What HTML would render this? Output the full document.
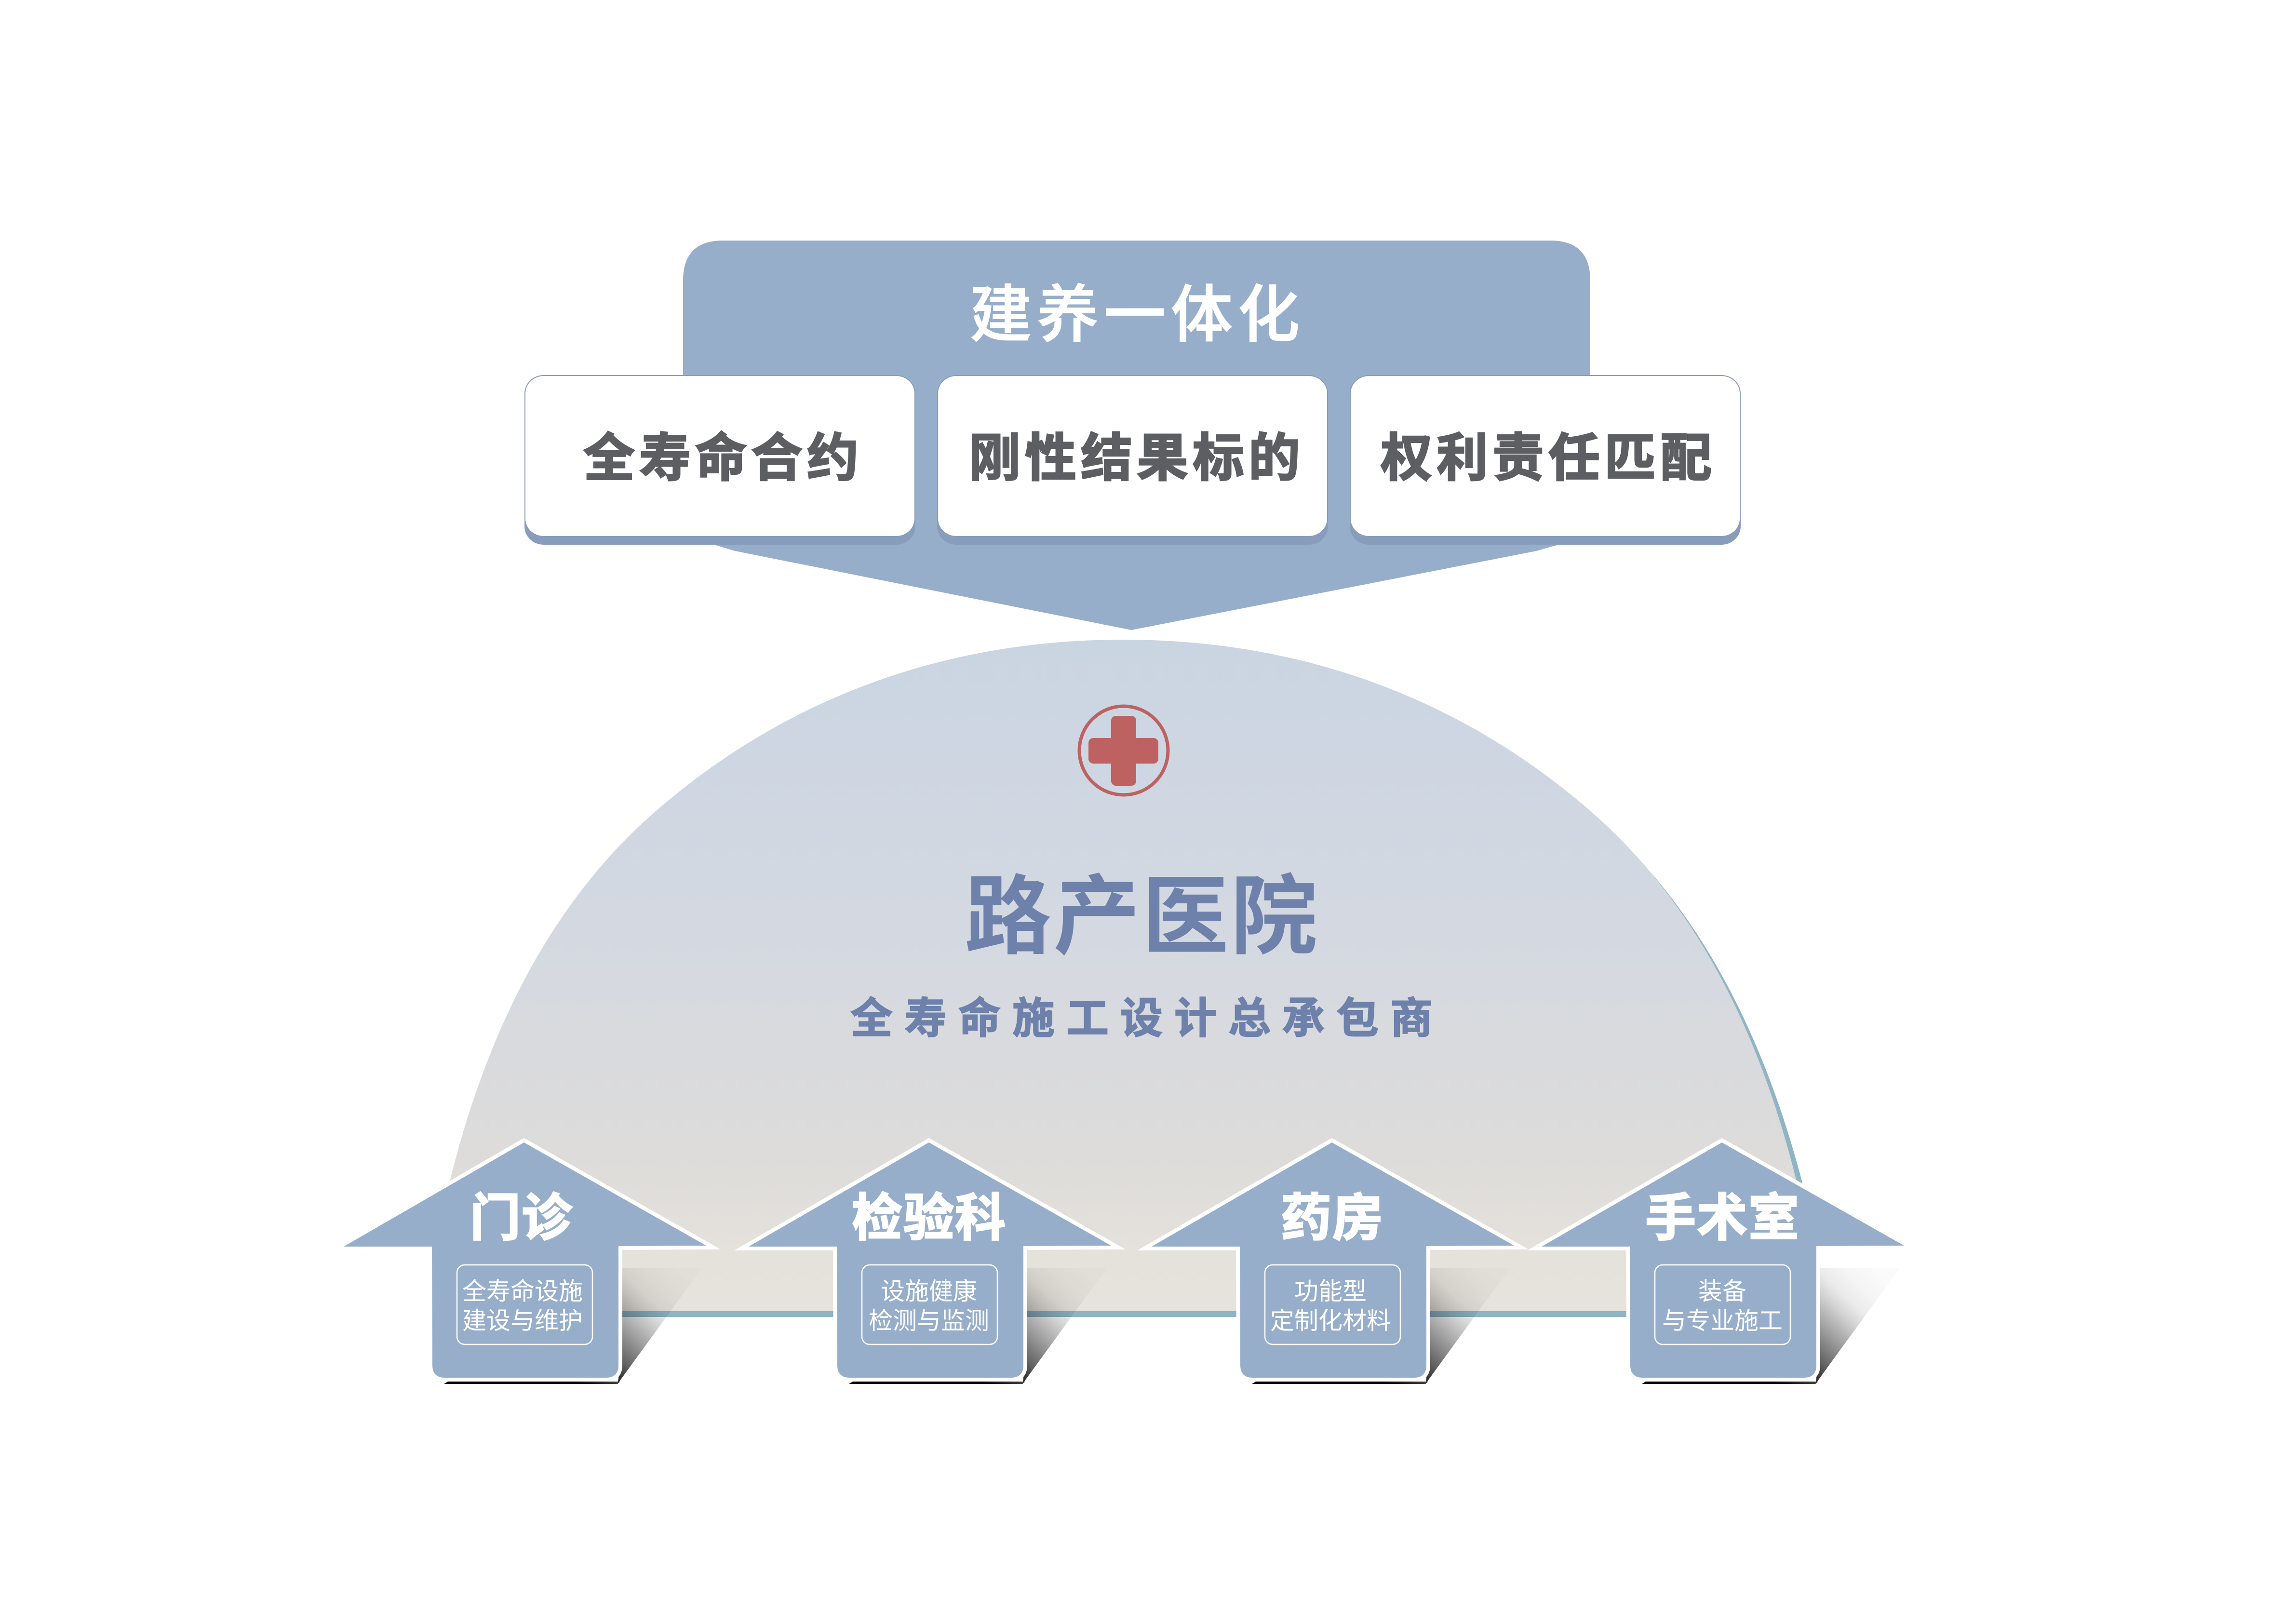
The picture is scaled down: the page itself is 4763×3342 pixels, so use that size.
<!DOCTYPE html>
<html lang="zh">
<head>
<meta charset="utf-8">
<title>路产医院</title>
<style>
html,body{margin:0;padding:0;background:#fff;width:4763px;height:3342px;overflow:hidden}
svg{display:block}
text{font-family:"Liberation Sans","Noto Sans CJK SC",sans-serif}
.t1{font-size:128px;font-weight:500;fill:#fff;letter-spacing:11px;stroke:#fff;stroke-width:2px}
.t2{font-size:107px;font-weight:700;fill:#5c5e62;letter-spacing:9px;stroke:#5c5e62;stroke-width:3px}
.t3{font-size:180px;font-weight:700;fill:#6e81ab;letter-spacing:4px}
.t4{font-size:88px;font-weight:700;fill:#6e81ab;letter-spacing:24px;stroke:#6e81ab;stroke-width:2px}
.h{font-size:105px;font-weight:700;fill:#fff;letter-spacing:2px;stroke:#fff;stroke-width:3px}
.s{font-size:50px;font-weight:400;fill:#fff;text-anchor:middle}
</style>
</head>
<body>
<svg xmlns="http://www.w3.org/2000/svg" width="4763" height="3342" viewBox="0 0 4763 3342">
<defs>
<linearGradient id="dome" gradientUnits="userSpaceOnUse" x1="0" y1="1330" x2="0" y2="2720">
<stop offset="0" stop-color="#cad5e2"/>
<stop offset=".4" stop-color="#d3d8e1"/>
<stop offset=".7" stop-color="#dbdbdc"/>
<stop offset=".806" stop-color="#dfddda"/>
<stop offset=".914" stop-color="#e5e2dc"/>
<stop offset="1" stop-color="#e6e2dc"/>
</linearGradient>
<linearGradient id="sh" x1=".75" y1="0" x2=".05" y2="1">
<stop offset="0" stop-color="#000" stop-opacity=".015"/>
<stop offset=".2" stop-color="#000" stop-opacity=".04"/>
<stop offset=".35" stop-color="#000" stop-opacity=".08"/>
<stop offset=".46" stop-color="#000" stop-opacity=".17"/>
<stop offset=".65" stop-color="#000" stop-opacity=".37"/>
<stop offset=".87" stop-color="#000" stop-opacity=".62"/>
<stop offset="1" stop-color="#000" stop-opacity=".85"/>
</linearGradient>
<linearGradient id="sb" x1="0" y1="0" x2="1" y2="0">
<stop offset="0" stop-color="#000"/>
<stop offset=".75" stop-color="#000"/>
<stop offset="1" stop-color="#444"/>
</linearGradient>
<g id="arrowShape">
<polygon points="196,2631 369,2631 194,2871 196,2860" fill="url(#sh)"/>
<polygon points="-166,2871 -158,2866 200,2866 194,2871" fill="url(#sb)"/>
<path d="M0,2370 L378,2584 L196,2585 L196,2832 Q196,2858 170,2858 L-164,2858 Q-190,2858 -190,2832 L-191,2586 L-374,2586 Z" fill="#97aecb" stroke="#fff" stroke-width="16" paint-order="stroke" stroke-linejoin="miter" stroke-miterlimit="5"/>
<rect x="-139" y="2624" width="281" height="165" rx="16" ry="16" fill="none" stroke="#fff" stroke-width="2.5"/>
</g>
</defs>

<rect width="4763" height="3342" fill="#fff"/>

<!-- dome -->
<path d="M3407,1790 C3571,1972 3673,2204 3738,2450 L3745,2480 L3600,2400 Z" fill="#8fb4c4"/>
<path d="M2330,1327 C2694,1327 3025,1444 3300,1683 C3526,1879 3654,2157 3726,2447 L3755,2720 L905,2720 L934,2447 C1006,2157 1134,1879 1360,1683 C1635,1444 1966,1327 2330,1327 Z" fill="url(#dome)"/>
<rect x="900" y="2720" width="2480" height="12" fill="#8fb4c4"/>

<!-- top banner -->
<path d="M1500,499 L3216,499 Q3299,499 3299,582 L3299,1000 L3233,1130 Q3215,1135 3187,1143 L2347,1307 L1525,1143 Q1497,1135 1482,1130 L1417,1000 L1417,582 Q1417,499 1500,499 Z" fill="#97aecb"/>

<!-- boxes -->
<rect x="1088" y="778" width="811" height="352" rx="40" ry="38" fill="#879dbb"/>
<rect x="1090" y="780" width="807" height="332" rx="38" ry="36" fill="#fff"/>
<rect x="1944" y="778" width="811" height="352" rx="40" ry="38" fill="#879dbb"/>
<rect x="1946" y="780" width="807" height="332" rx="38" ry="36" fill="#fff"/>
<rect x="2800" y="778" width="811" height="352" rx="40" ry="38" fill="#879dbb"/>
<rect x="2802" y="780" width="807" height="332" rx="38" ry="36" fill="#fff"/>

<text class="t1" x="2012" y="697">建养一体化</text>
<text class="t2" x="1210" y="987">全寿命合约</text>
<text class="t2" x="2010" y="987">刚性结果标的</text>
<text class="t2" x="2864" y="987">权利责任匹配</text>

<!-- medical icon -->
<ellipse cx="2331" cy="1557" rx="92" ry="92" fill="none" stroke="#bd6261" stroke-width="7"/>
<rect x="2305" y="1485" width="52" height="145" rx="10" fill="#bd6261"/>
<rect x="2258" y="1531" width="145" height="53" rx="10" fill="#bd6261"/>

<text class="t3" x="2001" y="1964">路产医院</text>
<text class="t4" x="1764" y="2143">全寿命施工设计总承包商</text>

<!-- arrows -->
<use href="#arrowShape" transform="translate(1087,0)"/>
<use href="#arrowShape" transform="translate(1927,0)"/>
<use href="#arrowShape" transform="translate(2763,0)"/>
<use href="#arrowShape" transform="translate(3572,0)"/>

<text class="h" x="975" y="2563">门诊</text>
<text class="h" x="1767" y="2563">检验科</text>
<text class="h" x="2657" y="2563">药房</text>
<text class="h" x="3413" y="2563">手术室</text>

<text class="s" x="1084" y="2696">全寿命设施</text>
<text class="s" x="1084" y="2757">建设与维护</text>
<text class="s" x="1927" y="2696">设施健康</text>
<text class="s" x="1927" y="2757">检测与监测</text>
<text class="s" x="2760" y="2696">功能型</text>
<text class="s" x="2760" y="2757">定制化材料</text>
<text class="s" x="3573" y="2696">装备</text>
<text class="s" x="3573" y="2757">与专业施工</text>
</svg>
</body>
</html>
